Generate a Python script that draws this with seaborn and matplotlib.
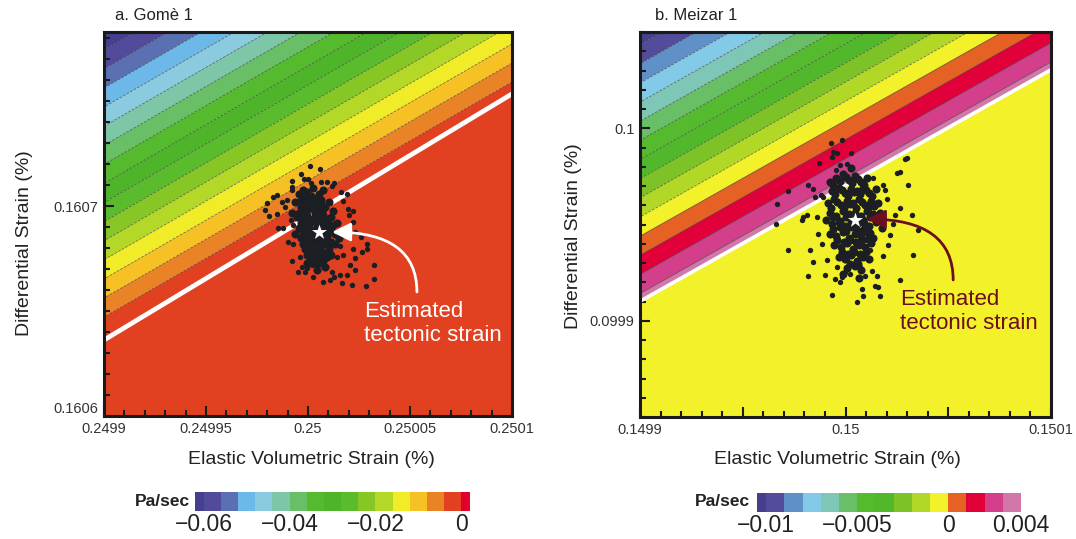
import numpy as np
import pandas as pd
import matplotlib
matplotlib.use("Agg")
import matplotlib.pyplot as plt
import seaborn as sns
from matplotlib import font_manager
from matplotlib.colors import ListedColormap, BoundaryNorm
from matplotlib.cm import ScalarMappable
from matplotlib.ticker import FixedLocator, FixedFormatter

# ============================ DATA ============================
# ---- Panel a : Gomè 1 ----
gome_title = "a. Gomè 1"
gome_xlim = [0.2499, 0.2501]
gome_ylim = [0.1606, 0.160783]
gome_xticks = [0.2499, 0.24995, 0.25, 0.25005, 0.2501]
gome_xticklabels = ["0.2499", "0.24995", "0.25", "0.25005", "0.2501"]
gome_yticks = [0.1606, 0.1607]
gome_yticklabels = ["0.1606", "0.1607"]
gome_envelope_x = [0.2499, 0.2501]
gome_envelope_y = [0.1606362, 0.1607535]
# linear rate field: value at envelope start, gradients (Pa/sec per %), cap, elastic value
gome_rate_start = 0.0008
gome_rate_grad_x = 246.2
gome_rate_grad_y = -439.6
gome_rate_cap = -0.0002
gome_rate_inside = -0.002
gome_levels = [-0.062, -0.060, -0.056, -0.052, -0.048, -0.044, -0.040, -0.036,
               -0.032, -0.028, -0.024, -0.020, -0.016, -0.012, -0.008, -0.004,
               0.0, 0.002]
gome_colors = ["#463F8F", "#524A9A", "#5B6FB3", "#6CB9E9", "#8ACBDF", "#7EC6A8",
               "#69BF66", "#56BA2E", "#4EB52B", "#5ABB2D", "#86C625", "#B4D827",
               "#F0EC28", "#F5C124", "#EA8226", "#E14021", "#E0002B"]
gome_cbar_ticks = [-0.06, -0.04, -0.02, 0.0]
gome_cbar_labels = ["\u22120.06", "\u22120.04", "\u22120.02", "0"]
gome_star = [0.2500054, 0.1606878]
# deviations of the sampled strains from the estimate (units of 1e-6 %)
gome_dev_x = [-4.4, 0.5, -8.8, -5.5, -7.2, -13.0, -3.9, 1.0, 4.1, 7.5,
              -13.4, -13.4, -20.7, -22.8, -25.6, -26.4, -24.5, -20.7, -19.9, -17.9,
              -13.7, -12.6, -15.0, -12.6, -13.4, -9.3, -8.5, -10.1, -6.0, -3.6,
              -2.8, -0.7, 2.1, 5.4, 6.5, 7.5, 10.3, 11.1, 13.9, 16.0,
              17.6, 17.6, 20.9, 23.3, 23.6, 16.8, 20.4, 17.6, 16.8, 14.7,
              14.3, 16.8, 11.9, 10.8, 13.5, 6.5, 26.9, 27.1, 23.0, 11.9,
              10.3, 8.6, 3.7, 0.5, 5.4, -16.6, -18.3, -15.8, -6.8, 15.2]
gome_dev_y = [31.3, 29.7, 27.3, 25.0, 25.1, 24.2, 23.1, 23.9, 23.9, 23.1,
              21.5, 19.9, 17.5, 16.7, 13.8, 10.3, 7.5, 8.4, 1.6, 1.6,
              5.6, 3.2, -4.8, -5.6, -13.8, -11.9, -16.7, -19.1, -17.5, -15.9,
              -21.5, -18.3, -23.9, -23.1, -19.1, -21.5, -20.7, -24.6, -20.7, -25.4,
              -12.7, -18.3, -9.5, -8.0, -5.6, -8.0, -2.4, 0.0, 4.8, 8.0,
              10.8, 10.0, 14.8, 18.8, 18.0, 21.9, -15.9, -22.6, -25.9, -11.1,
              -6.8, -11.9, -11.9, -13.5, 2.4, 11.9, 14.3, 15.1, -19.1, -15.9]
gome_core = [(-10, 18), (-8, 16), (-6, 19), (-4, 17), (-2, 15), (0, 18), (-9, 12), (-7, 10),
             (-5, 13), (-3, 11), (-1, 13), (1, 10), (3, 12), (-11, 7), (-8, 6), (-6, 8),
             (-4, 5), (-2, 7), (0, 6), (2, 8), (4, 5), (6, 7), (-10, 2), (-7, 1), (-5, 3),
             (-3, 0), (-1, 2), (1, -1), (3, 2), (5, 0), (7, 3), (-9, -3), (-6, -4), (-4, -2),
             (-2, -5), (0, -3), (2, -4), (4, -2), (6, -5), (8, -1), (-7, -8), (-5, -10),
             (-3, -7), (-1, -9), (1, -7), (3, -10), (5, -8), (-4, -13), (-2, -15), (0, -12),
             (2, -14), (4, -12), (-12, 14), (-13, 9), (9, 4), (8, -6), (-6, -15), (1, 15),
             (5, 14), (-8, 20), (-3, 21), (2, 20), (7, 10), (-12, -1), (10, -3), (6, -11),
             (-1, -18), (3, -17), (-9, 15), (-7, 13), (-5, 16), (-3, 14), (-1, 16), (1, 13),
             (-10, 9), (-6, 11), (-2, 9), (0, 11), (2, 11), (-9, 4), (-7, 4), (-5, 6), (-3, 6),
             (-1, 4), (1, 4), (3, 6), (5, 3), (-8, 0), (-6, -1), (-4, 1), (-2, 1), (0, 0),
             (2, 0), (4, 1), (6, 1), (-8, -6), (-6, -7), (-4, -5), (-2, -3), (0, -5), (2, -6),
             (4, -6), (-6, -11), (-4, -9), (-2, -11), (0, -9), (2, -10), (-3, -14), (0, -15)]

# ---- Panel b : Meizar 1 ----
meizar_title = "b. Meizar 1"
meizar_xlim = [0.1499, 0.1501]
meizar_ylim = [0.09985, 0.10005]
meizar_xticks = [0.1499, 0.14995, 0.15, 0.15005, 0.1501]
meizar_xticklabels = ["0.1499", "", "0.15", "", "0.1501"]
meizar_yticks = [0.0999, 0.1]
meizar_yticklabels = ["0.0999", "0.1"]
meizar_envelope_x = [0.1499, 0.1501]
meizar_envelope_y = [0.0999101, 0.1000304]
meizar_rate_start = 0.0034
meizar_rate_grad_x = 60.45
meizar_rate_grad_y = -100.5
meizar_rate_cap = 1.0
meizar_rate_inside = -0.0005
meizar_levels = [-0.0105, -0.010, -0.009, -0.008, -0.007, -0.006, -0.005, -0.004,
                 -0.003, -0.002, -0.001, 0.0, 0.001, 0.002, 0.003, 0.004]
meizar_colors = ["#463F8E", "#524C9A", "#6090C8", "#82CAE8", "#7EC6B6", "#69BF66",
                 "#55BA2E", "#51B82C", "#7DC226", "#B2D827", "#F3F129", "#E66224",
                 "#E2003B", "#D43F8C", "#D277AA"]
meizar_cbar_ticks = [-0.01, -0.005, 0.0, 0.004]
meizar_cbar_labels = ["\u22120.01", "\u22120.005", "0", "0.004"]
meizar_star = [0.1500046, 0.0999522]
meizar_dev_x = [-11.7, -6.2, -10.5, -8.6, -1.9, -17.4, -11.4, -3.7, -7.3, -9.4,
                -32.4, -37.8, -38.4, -22.7, -20.3, -19.5, -16.5, -15.4, -25.1, -26.0,
                -23.5, -18.7, -32.4, -21.9, -20.3, -22.7, -14.6, -11.4, -9.7, -6.5,
                -7.3, -2.4, -3.2, 0.8, 3.2, 4.1, 9.7, 11.4, 10.5, 12.2,
                13.8, 16.2, 17.0, 18.7, 19.5, 21.9, 26.0, 20.3, 21.9, 24.3,
                25.1, 28.4, 21.9, 30.8, 27.6, 15.4, 14.6, 13.8, 8.9, 5.7,
                8.1, 12.2, 7.3, 2.4, -4.1, -13.8, -16.2, -17.8, -8.9, -4.9,
                4.9, 8.1]
meizar_dev_y = [40.3, 41.7, 35.6, 34.8, 34.8, 29.6, 33.0, 29.0, 28.7, 26.1,
                15.3, 8.7, -2.1, 18.3, 16.5, 12.2, 13.0, 12.2, 1.7, 0.0,
                2.6, 1.7, -15.7, -15.7, -21.7, -29.2, -28.2, -38.6, -30.4, -29.6,
                -32.2, -27.8, -25.2, -42.6, -35.6, -39.1, -33.9, -34.8, -28.7, -39.1,
                -18.8, -13.0, -7.8, -1.7, 2.6, 6.6, 18.3, 24.3, 25.2, 31.6,
                32.2, -18.3, -31.0, -5.2, 2.6, 11.3, 15.7, 18.3, 21.7, 21.2,
                12.2, 3.5, -15.7, -24.3, -20.9, -20.9, -12.2, -7.0, -24.3, -27.0,
                -28.7, -26.1]
meizar_core = [(-12, 20), (-9, 22), (-6, 24), (-3, 21), (0, 23), (3, 20), (6, 22), (-11, 15),
               (-8, 17), (-5, 14), (-2, 16), (1, 15), (4, 17), (7, 14), (10, 16), (-13, 9),
               (-10, 11), (-7, 8), (-4, 10), (-1, 9), (2, 11), (5, 8), (8, 10), (11, 9),
               (-12, 4), (-9, 2), (-6, 5), (-3, 3), (0, 4), (3, 2), (6, 5), (9, 3), (12, 4),
               (-11, -2), (-8, -1), (-5, -3), (-2, -1), (1, -2), (4, 0), (7, -3), (10, -1),
               (-12, -7), (-9, -8), (-6, -6), (-3, -9), (0, -7), (3, -8), (6, -6), (9, -9),
               (-10, -13), (-7, -14), (-4, -12), (-1, -15), (2, -13), (5, -14), (8, -12),
               (-8, -19), (-5, -20), (-2, -18), (1, -21), (4, -19), (7, -20), (-4, -25),
               (0, -24), (3, -26), (-14, 0), (13, -4), (-2, 27), (2, -30), (-6, -28),
               (-10.5, 18.5), (-7.5, 20.5), (-4.5, 22.5), (-1.5, 19.5), (1.5, 21.5),
               (4.5, 18.5), (-9.5, 13.5), (-6.5, 15.5), (-3.5, 12.5), (-0.5, 14.5),
               (2.5, 13.5), (5.5, 15.5), (8.5, 12.5), (-11.5, 6.5), (-8.5, 9.5), (-5.5, 6.5),
               (-2.5, 8.5), (0.5, 6.5), (3.5, 9.5), (6.5, 6.5), (9.5, 7.5), (-10.5, 1.5),
               (-7.5, -0.5), (-4.5, 1.5), (-1.5, -0.5), (1.5, 1.5), (4.5, -1.5), (7.5, 1.5),
               (10.5, 0.5), (-10.5, -4.5), (-7.5, -3.5), (-4.5, -5.5), (-1.5, -3.5),
               (1.5, -5.5), (4.5, -4.5), (7.5, -6.5), (-8.5, -10.5), (-5.5, -11.5),
               (-2.5, -10.5), (0.5, -11.5), (3.5, -10.5), (6.5, -9.5), (-6.5, -16.5),
               (-3.5, -17.5), (-0.5, -16.5), (2.5, -17.5), (5.5, -16.5), (-2.5, -22.5),
               (1.5, -22.5)]

minor_step = 0.00001
xlabel_text = "Elastic Volumetric Strain (%)"
ylabel_text = "Differential Strain (%)"
annot_text = "Estimated\ntectonic strain"
cbar_unit = "Pa/sec"

# ============================ STYLE ============================
sns.set_style("white")
plt.rcParams["font.family"] = ["Liberation Sans", "DejaVu Sans"]
TXT = "#222222"
DOT = "#1b1f24"
names = {f.name for f in font_manager.fontManager.ttflist}
if "Liberation Sans Narrow" in names:
    cb_family, cb_size = ["Liberation Sans Narrow", "DejaVu Sans"], 18
else:
    cb_family, cb_size = ["Liberation Sans", "DejaVu Sans"], 16.5

W, H = 1076, 539
fig = plt.figure(figsize=(W / 100, H / 100), dpi=100)


def px_rect(l, t, r, b):
    return [l / W, 1 - b / H, (r - l) / W, (b - t) / H]


def rate_field(xlim, ylim, env_x, env_y, f0, gx, gy, cap, f_in, n=700):
    xs = np.linspace(xlim[0], xlim[1], n)
    ys = np.linspace(ylim[0], ylim[1], n)
    X, Y = np.meshgrid(xs, ys)
    slope = (env_y[1] - env_y[0]) / (env_x[1] - env_x[0])
    d = Y - (env_y[0] + slope * (X - env_x[0]))
    plane = f0 + gx * (X - env_x[0]) + gy * (Y - env_y[0])
    F = np.where(d > 0, np.minimum(plane, cap), f_in)
    lines = np.ma.masked_where((d <= 0) | (plane > cap), plane)
    return X, Y, F, lines


def draw_panel(ax, xlim, ylim, xticks, xticklabels, yticks, yticklabels,
               env_x, env_y, f0, gx, gy, cap, f_in, levels, colors, star,
               dev_x, dev_y, core, env_lw):
    X, Y, F, Fl = rate_field(xlim, ylim, env_x, env_y, f0, gx, gy, cap, f_in)
    fill_levels = [-1.0] + list(levels[1:-1]) + [1.0]
    ax.contourf(X, Y, F, levels=fill_levels, colors=colors, zorder=0, antialiased=True)
    ax.contour(X, Y, Fl, levels=list(levels[1:-1]), colors="#2a2a2a",
               linewidths=0.55, alpha=0.65, zorder=1)
    ax.plot(env_x, env_y, color="white", lw=env_lw, solid_capstyle="butt", zorder=2)

    df_out = pd.DataFrame({"x": star[0] + np.array(dev_x) * 1e-6,
                           "y": star[1] + np.array(dev_y) * 1e-6})
    df_core = pd.DataFrame({"x": star[0] + np.array([c[0] for c in core]) * 1e-6,
                            "y": star[1] + np.array([c[1] for c in core]) * 1e-6})
    sns.scatterplot(data=df_out, x="x", y="y", ax=ax, s=15, color=DOT,
                    linewidth=0, legend=False, zorder=3)
    sns.scatterplot(data=df_core, x="x", y="y", ax=ax, s=34, color=DOT,
                    linewidth=0, legend=False, zorder=3)
    ax.scatter([star[0]], [star[1]], marker="*", s=130, c="white",
               linewidths=0, zorder=5)

    ax.set_xlim(xlim)
    ax.set_ylim(ylim)
    ax.set_xlabel("")
    ax.set_ylabel("")
    ax.xaxis.set_major_locator(FixedLocator(xticks))
    ax.xaxis.set_major_formatter(FixedFormatter(xticklabels))
    ax.yaxis.set_major_locator(FixedLocator(yticks))
    ax.yaxis.set_major_formatter(FixedFormatter(yticklabels))
    xm = np.round(np.arange(xlim[0], xlim[1] + minor_step / 2, minor_step), 8)
    ym = np.round(np.arange(ylim[0], ylim[1] + minor_step / 2, minor_step), 8)
    ax.xaxis.set_minor_locator(FixedLocator(xm))
    ax.yaxis.set_minor_locator(FixedLocator(ym))
    ax.tick_params(which="both", direction="in", bottom=True, left=True,
                   top=False, right=False, color="#1a1a1a", width=1.5,
                   labelsize=10.5, labelcolor="#333333", pad=4)
    ax.tick_params(which="major", length=7)
    ax.tick_params(which="minor", length=4.5)
    for sp in ax.spines.values():
        sp.set_visible(True)
        sp.set_linewidth(2.2)
        sp.set_color("#1a1a1a")
        sp.set_zorder(6)


def draw_cbar(rect, levels, colors, ticks, labels):
    cax = fig.add_axes(rect)
    cmap = ListedColormap(colors)
    norm = BoundaryNorm(levels, cmap.N)
    cb = fig.colorbar(ScalarMappable(norm=norm, cmap=cmap), cax=cax,
                      orientation="horizontal", spacing="proportional", ticks=ticks)
    cb.minorticks_off()
    cb.outline.set_visible(False)
    cb.set_ticklabels(labels, fontsize=cb_size, family=cb_family, color=TXT)
    cax.tick_params(which="both", length=0, pad=1.5)
    return cb


# ---------------- Panel a ----------------
ax_a = fig.add_axes(px_rect(104, 32, 512, 416))
draw_panel(ax_a, gome_xlim, gome_ylim, gome_xticks, gome_xticklabels,
           gome_yticks, gome_yticklabels, gome_envelope_x, gome_envelope_y,
           gome_rate_start, gome_rate_grad_x, gome_rate_grad_y, gome_rate_cap,
           gome_rate_inside, gome_levels, gome_colors, gome_star,
           gome_dev_x, gome_dev_y, gome_core, env_lw=3.4)
ax_a.yaxis.get_major_ticks()[0].label1.set_verticalalignment("bottom")
ax_a.annotate("", xy=(0.559, 0.479), xytext=(0.767, 0.323), xycoords="axes fraction",
              arrowprops=dict(arrowstyle="-|>,head_length=0.8,head_width=0.4",
                              color="white", lw=2.0, mutation_scale=14,
                              shrinkA=0, shrinkB=0,
                              connectionstyle="angle3,angleA=90,angleB=0"),
              zorder=7)
ax_a.text(0.637, 0.196, annot_text, transform=ax_a.transAxes, color="white",
          fontsize=16, ha="left", va="baseline", linespacing=1.2, zorder=7)

# ---------------- Panel b ----------------
ax_b = fig.add_axes(px_rect(640, 32, 1051, 417))
draw_panel(ax_b, meizar_xlim, meizar_ylim, meizar_xticks, meizar_xticklabels,
           meizar_yticks, meizar_yticklabels, meizar_envelope_x, meizar_envelope_y,
           meizar_rate_start, meizar_rate_grad_x, meizar_rate_grad_y, meizar_rate_cap,
           meizar_rate_inside, meizar_levels, meizar_colors, meizar_star,
           meizar_dev_x, meizar_dev_y, meizar_core, env_lw=2.6)
maroon = "#6B0E20"
ax_b.annotate("", xy=(0.552, 0.514), xytext=(0.762, 0.356), xycoords="axes fraction",
              arrowprops=dict(arrowstyle="-|>,head_length=0.8,head_width=0.4",
                              color=maroon, lw=2.0, mutation_scale=14,
                              shrinkA=0, shrinkB=0,
                              connectionstyle="angle3,angleA=90,angleB=0"),
              zorder=7)
ax_b.text(0.633, 0.229, annot_text, transform=ax_b.transAxes, color=maroon,
          fontsize=16, ha="left", va="baseline", linespacing=1.2, zorder=7)

# ---------------- texts ----------------
fig.text(115 / W, 1 - 15 / H, gome_title, fontsize=12, color=TXT, ha="left", va="center")
fig.text(655 / W, 1 - 15 / H, meizar_title, fontsize=12, color=TXT, ha="left", va="center")
fig.text(311 / W, 1 - 460 / H, xlabel_text, fontsize=14, color=TXT, ha="center", va="center")
fig.text(837 / W, 1 - 460 / H, xlabel_text, fontsize=14, color=TXT, ha="center", va="center")
fig.text(25 / W, 1 - 243 / H, ylabel_text, fontsize=14, color=TXT, ha="center",
         va="center", rotation=90)
fig.text(573 / W, 1 - 236 / H, ylabel_text, fontsize=14, color=TXT, ha="center",
         va="center", rotation=90)

# ---------------- colorbars ----------------
draw_cbar(px_rect(195, 492, 470, 511), gome_levels, gome_colors,
          gome_cbar_ticks, gome_cbar_labels)
draw_cbar(px_rect(757, 493, 1021, 512), meizar_levels, meizar_colors,
          meizar_cbar_ticks, meizar_cbar_labels)
fig.text(190 / W, 1 - 502 / H, cbar_unit, fontsize=12.5, fontweight="bold",
         color=TXT, ha="right", va="center")
fig.text(750 / W, 1 - 502 / H, cbar_unit, fontsize=12.5, fontweight="bold",
         color=TXT, ha="right", va="center")

fig.savefig("out.png", dpi=100)
